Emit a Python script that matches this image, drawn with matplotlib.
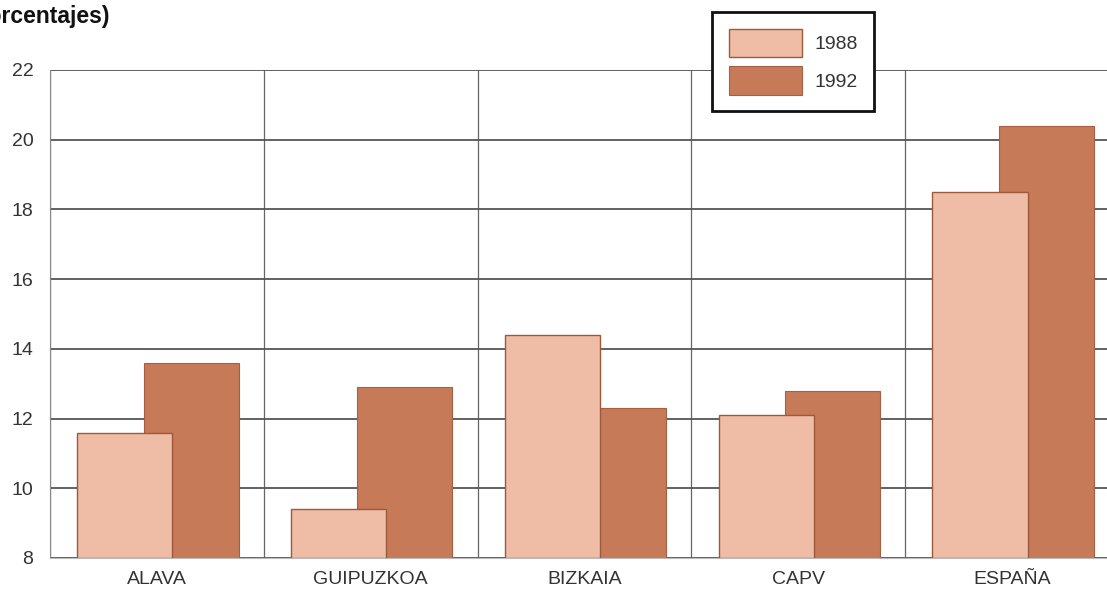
import numpy as np
import matplotlib
matplotlib.use('Agg')
import matplotlib.pyplot as plt

plt.rcParams['font.family'] = ['Liberation Sans', 'DejaVu Sans']

# datos (porcentajes)
regiones = ['ALAVA', 'GUIPUZKOA', 'BIZKAIA', 'CAPV', 'ESPAÑA']
v1988 = [11.6, 9.4, 14.4, 12.1, 18.5]
v1992 = [13.6, 12.9, 12.3, 12.8, 20.4]
anios = ['1988', '1992']

c88 = '#efbda5'
c92 = '#c67a58'

fig = plt.figure(figsize=(11.07, 5.91), dpi=100)
ax = fig.add_axes([50 / 1107, 1 - 558 / 591, 1069 / 1107, (558 - 70) / 591])

x = np.arange(len(regiones))
ancho = 0.445
b92 = ax.bar(x + 0.16, np.array(v1992) - 8, ancho, bottom=8, color=c92,
             edgecolor='#a65f42', linewidth=0.8, zorder=2, label=anios[1])
b88 = ax.bar(x - 0.15, np.array(v1988) - 8, ancho, bottom=8, color=c88,
             edgecolor='#9c5a3c', linewidth=1.0, zorder=3, label=anios[0])

ax.set_xlim(-0.5, 4.5)
ax.set_ylim(8, 22)
ax.set_yticks(range(8, 23, 2))
ax.set_xticks(x)
ax.set_xticklabels(regiones)
ax.set_xticks(np.arange(-0.5, 4.6, 1), minor=True)
ax.tick_params(axis='both', which='both', length=0, labelsize=14, labelcolor='#333333')
ax.tick_params(axis='y', pad=12)
ax.tick_params(axis='x', pad=9)

ax.grid(axis='y', color='#555555', linewidth=1.3, zorder=0)
ax.grid(axis='x', which='minor', color='#666666', linewidth=0.9, zorder=0)
ax.set_axisbelow(True)

for s in ['top', 'right']:
    ax.spines[s].set_visible(False)
ax.spines['left'].set_color('#888888')
ax.spines['bottom'].set_color('#bbbbbb')

# el titulo aparece cortado en el original
fig.text(110 / 1107, 1 - 17 / 591, '(porcentajes)', ha='right', va='center',
         fontsize=16.5, fontweight='bold', color='#111111')

leg = fig.legend([b88, b92], anios, loc='upper left',
                 bbox_to_anchor=(712 / 1107, 1 - 12 / 591),
                 fontsize=14, handlelength=3.8, handleheight=1.9,
                 labelspacing=0.45, borderpad=0.85, handletextpad=0.6,
                 borderaxespad=0, fancybox=False, framealpha=1,
                 edgecolor='#111111')
leg.get_frame().set_linewidth(2)
for t in leg.get_texts():
    t.set_color('#333333')

fig.savefig('out.png', dpi=100)
